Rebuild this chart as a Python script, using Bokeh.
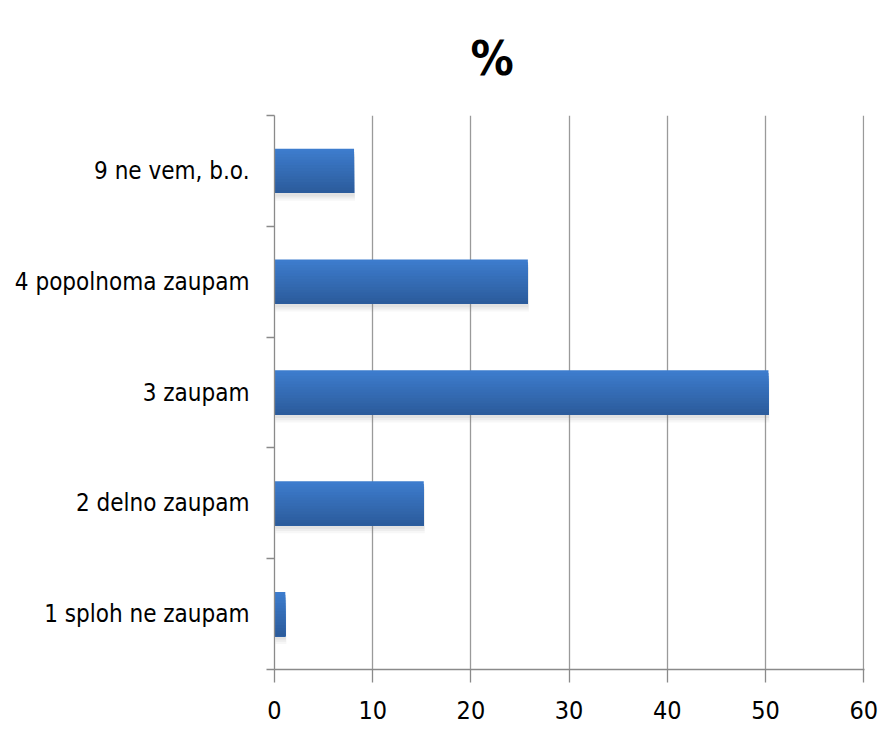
from bokeh.plotting import figure
from bokeh.models import Range1d, FixedTicker, Title
from bokeh.embed import file_html
from bokeh.resources import INLINE

categories = ["1 sploh ne zaupam", "2 delno zaupam", "3 zaupam", "4 popolnoma zaupam", "9 ne vem, b.o."]
values = [1.1, 15.2, 50.3, 25.8, 8.1]
x_ticks = [0, 10, 20, 30, 40, 50, 60]
title_text = "%"

FONT = "'DejaVu Sans Condensed', 'Roboto Condensed', 'Liberation Sans Narrow', Roboto"
BAR_H = 0.4

p = figure(width=882, height=729, output_backend="svg", toolbar_location=None,
           x_range=Range1d(0, 60.08), y_range=Range1d(0, len(categories)),
           min_border_left=274, min_border_right=18, min_border_top=115, min_border_bottom=60)
p.outline_line_color = None
p.background_fill_color = "white"
p.border_fill_color = "white"

centers = [i + 0.5 for i in range(len(categories))]

# soft shadow
for k, a in enumerate([0.10, 0.08, 0.06]):
    off = 0.03 + 0.02 * k
    p.hbar(y=[c - off for c in centers], right=[v + 0.06 + 0.02 * k for v in values], left=0.1,
           height=BAR_H, fill_color="#7f7f7f", fill_alpha=a, line_color=None)

# gradient bar: each layer spans from its top down to bar bottom, later layers overwrite
top_c = (0x3d, 0x7c, 0xcd)
bot_c = (0x2c, 0x5c, 0x9c)
N = 16
for s in range(N):
    t = s / (N - 1)
    col = "#%02x%02x%02x" % tuple(int(round(top_c[i] + (bot_c[i] - top_c[i]) * t)) for i in range(3))
    step = BAR_H / N
    top = [c + BAR_H / 2 - step * s for c in centers]
    bottom = [c - BAR_H / 2 for c in centers]
    p.quad(left=0, right=values, top=top, bottom=bottom, fill_color=col, line_color=None)

# grid
p.xgrid.ticker = FixedTicker(ticks=x_ticks)
p.xgrid.grid_line_color = "#9a9a9a"
p.xgrid.grid_line_width = 1.3
p.ygrid.grid_line_color = None

# x axis
p.xaxis.ticker = FixedTicker(ticks=x_ticks)
p.xaxis.axis_line_color = "#8a8a8a"
p.xaxis.axis_line_width = 1.3
p.xaxis.major_tick_line_color = "#8a8a8a"
p.xaxis.major_tick_line_width = 1.3
p.xaxis.major_tick_out = 13
p.xaxis.major_tick_in = 0
p.xaxis.minor_tick_line_color = None
p.xaxis.major_label_text_font = FONT
p.xaxis.major_label_text_font_size = "25px"
p.xaxis.major_label_text_color = "#000000"
p.xaxis.major_label_standoff = 18

# y axis
p.yaxis.ticker = FixedTicker(ticks=centers, minor_ticks=list(range(len(categories) + 1)))
p.yaxis.major_label_overrides = {c: lab for c, lab in zip(centers, categories)}
p.yaxis.axis_line_color = "#8a8a8a"
p.yaxis.axis_line_width = 1.3
p.yaxis.major_tick_line_color = None
p.yaxis.major_tick_out = 0
p.yaxis.major_tick_in = 0
p.yaxis.minor_tick_line_color = "#8a8a8a"
p.yaxis.minor_tick_line_width = 1.3
p.yaxis.minor_tick_out = 8
p.yaxis.minor_tick_in = 0
p.yaxis.major_label_text_font = FONT
p.yaxis.major_label_text_font_size = "24px"
p.yaxis.major_label_text_color = "#000000"
p.yaxis.major_label_standoff = 17

# title
p.add_layout(Title(text=title_text, align="left", offset=196, standoff=56, vertical_align="top",
                   text_font=FONT, text_font_size="48px", text_font_style="bold",
                   text_color="#000000"), "above")

open("out.html", "w").write(file_html(p, INLINE))
